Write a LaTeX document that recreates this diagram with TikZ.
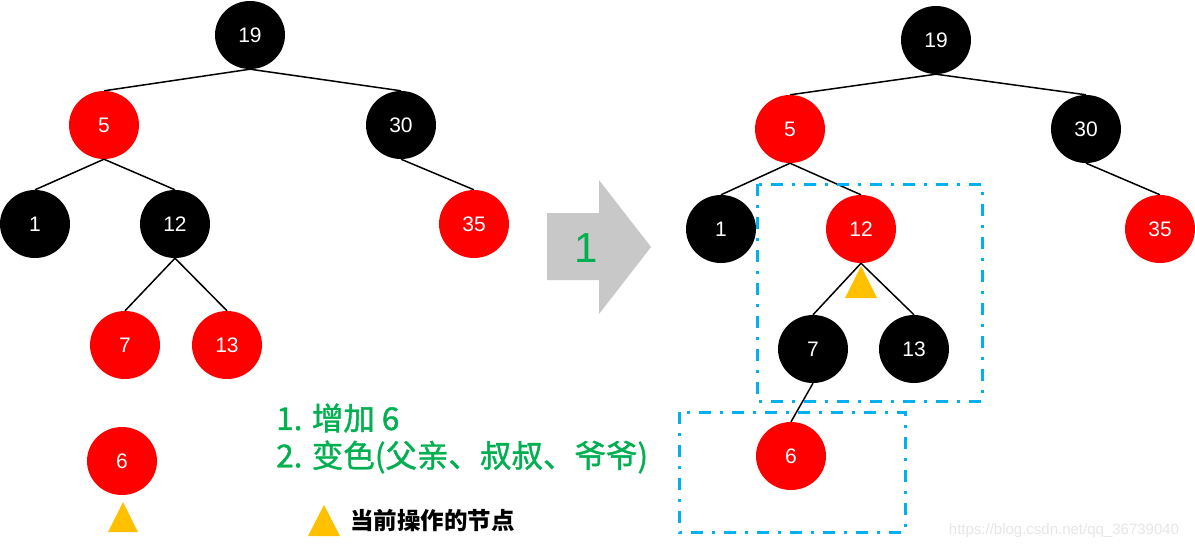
\documentclass[tikz,border=0pt]{standalone}
\usepackage{fontspec}
\setmainfont{Liberation Sans}
\newfontfamily\cjk{Noto Sans CJK SC}
\newfontfamily\cjkmed[FakeBold=1.2]{Noto Sans CJK SC}
\usetikzlibrary{shapes.geometric}
\definecolor{rbred}{HTML}{FF0000}
\definecolor{tgreen}{HTML}{00B050}
\definecolor{tri}{HTML}{FFC000}
\definecolor{boxblue}{HTML}{00B0F0}
\definecolor{arrowgray}{HTML}{C8C8C8}
\definecolor{wmark}{HTML}{E6E6E6}
\begin{document}
\begin{tikzpicture}[x=1pt,y=-1pt,
  tn/.style={ellipse, minimum width=70pt, minimum height=68pt, inner sep=0pt, text=white, font=\fontsize{21}{21}\selectfont},
  rn/.style={tn, fill=rbred},
  bn/.style={tn, fill=black},
  edge/.style={line width=1.5pt, black},
  focusbox/.style={draw=boxblue, line width=3pt, dash pattern=on 12pt off 9pt on 3pt off 9pt},
  marker/.style={fill=tri},
  note/.style={anchor=west, inner sep=0pt, text=tgreen, font=\cjkmed\fontsize{31.5}{31.5}\selectfont}
]
\useasboundingbox (0,0) rectangle (1195,550);

% ---------- left tree ----------
\node[bn] (L19) at (250,35) {19};
\node[rn] (L5)  at (104,125) {5};
\node[bn] (L30) at (401,125) {30};
\node[bn] (L1)  at (35,224) {1};
\node[bn] (L12) at (175,224) {12};
\node[rn] (L35) at (474,224) {35};
\node[rn] (L7)  at (125,345) {7};
\node[rn] (L13) at (227,345) {13};
\node[rn] (L6)  at (122,461) {6};

\draw[edge] (L19.south) -- (L5.north);
\draw[edge] (L19.south) -- (L30.north);
\draw[edge] (L5.south) -- (L1.north);
\draw[edge] (L5.south) -- (L12.north);
\draw[edge] (L30.south) -- (L35.north);
\draw[edge] (L12.south) -- (L7.north);
\draw[edge] (L12.south) -- (L13.north);

\fill[marker] (123,502) -- (138,532) -- (108,532) -- cycle;

% ---------- block arrow ----------
\fill[arrowgray] (547,213) -- (599,213) -- (599,180) -- (651,247) -- (599,314) -- (599,280) -- (547,280) -- cycle;
\node[text=tgreen, font=\fontsize{42}{42}\selectfont] (step1) at (586,248) {1};

% ---------- right tree ----------
\node[bn] (R19) at (936,40) {19};
\node[rn] (R5)  at (790,129) {5};
\node[bn] (R30) at (1086,129) {30};
\node[bn] (R1)  at (721,229) {1};
\node[rn] (R12) at (861,229) {12};
\node[rn] (R35) at (1160,229) {35};
\node[bn] (R7)  at (813,349) {7};
\node[bn] (R13) at (914,349) {13};
\node[rn] (R6)  at (791,456) {6};

\draw[edge] (R19.south) -- (R5.north);
\draw[edge] (R19.south) -- (R30.north);
\draw[edge] (R5.south) -- (R1.north);
\draw[edge] (R5.south) -- (R12.north);
\draw[edge] (R30.south) -- (R35.north);
\draw[edge] (R12.south) -- (R7.north);
\draw[edge] (R12.south) -- (R13.north);
\draw[edge] (R7.south) -- (R6.north);

\fill[marker] (861,266) -- (877,298) -- (845,298) -- cycle;

\draw[focusbox] (757,184) rectangle (982,401);
\draw[focusbox] (679,412) rectangle (905,532);

% ---------- notes ----------
\node[note] (n1) at (276,418) {1. 增加 6};
\node[note] (n2) at (276,457) {2. 变色(父亲、叔叔、爷爷)};

\fill[marker] (324,505) -- (340,536) -- (308,536) -- cycle;
\node[anchor=west, inner sep=0pt, font=\cjk\bfseries\fontsize{23.5}{23.5}\selectfont] (legend) at (350,521) {当前操作的节点};

\node[text=wmark, font=\fontsize{15}{15}\selectfont] (wm) at (1064,531) {https://blog.csdn.net/qq\_36739040};
\end{tikzpicture}
\end{document}
